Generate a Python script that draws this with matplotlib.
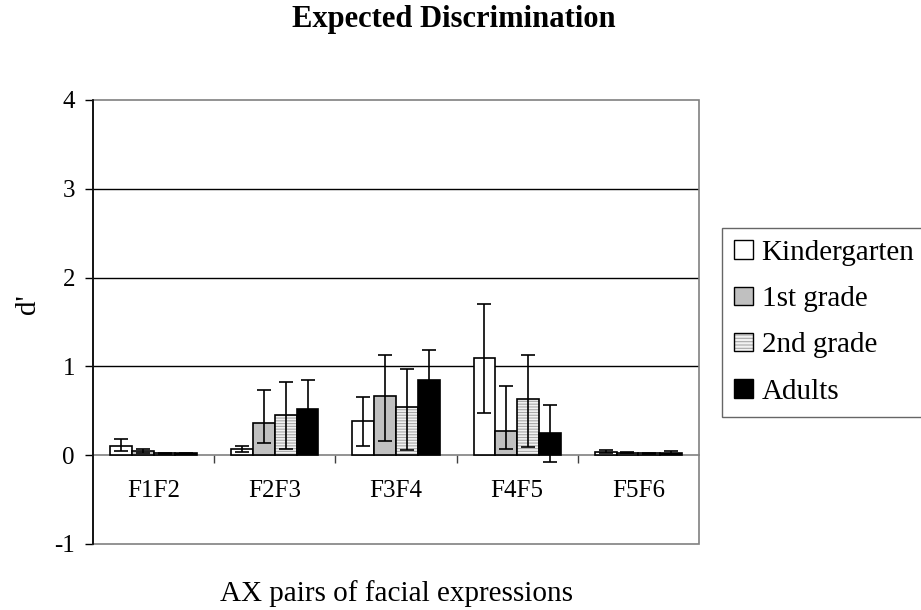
import numpy as np
import matplotlib
matplotlib.use("Agg")
import matplotlib.pyplot as plt
from matplotlib.patches import Patch, Rectangle
from matplotlib.legend_handler import HandlerTuple

plt.rcParams["font.family"] = ["Liberation Serif", "DejaVu Serif"]
plt.rcParams["hatch.linewidth"] = 0.8
plt.rcParams["axes.unicode_minus"] = False

# data: mean d' per pair and group, with upper / lower error lengths
pairs = ["F1F2", "F2F3", "F3F4", "F4F5", "F5F6"]
groups = ["Kindergarten", "1st grade", "2nd grade", "Adults"]

kinder = [0.10, 0.07, 0.38, 1.09, 0.04]
kinder_hi = [0.08, 0.03, 0.28, 0.61, 0.02]
kinder_lo = [0.05, 0.03, 0.28, 0.62, 0.02]

grade1 = [0.05, 0.36, 0.67, 0.27, 0.03]
grade1_hi = [0.02, 0.37, 0.46, 0.51, 0.01]
grade1_lo = [0.02, 0.22, 0.51, 0.20, 0.01]

grade2 = [0.02, 0.45, 0.54, 0.63, 0.02]
grade2_hi = [0.01, 0.37, 0.43, 0.50, 0.01]
grade2_lo = [0.01, 0.38, 0.48, 0.54, 0.01]

adults = [0.02, 0.52, 0.85, 0.25, 0.03]
adults_hi = [0.01, 0.33, 0.34, 0.32, 0.02]
adults_lo = [0.01, 0.33, 0.34, 0.33, 0.02]

means = [kinder, grade1, grade2, adults]
err_hi = [kinder_hi, grade1_hi, grade2_hi, adults_hi]
err_lo = [kinder_lo, grade1_lo, grade2_lo, adults_lo]

faces = ["white", "#c0c0c0", "#f2f2f2", "black"]

fig = plt.figure(figsize=(9.21, 6.10), dpi=100)
ax = fig.add_axes([0.10098, 0.10820, 0.65798, 0.72787])

x = np.arange(len(pairs))
w = 0.18

for i, g in enumerate(groups):
    pos = x + (i - 1.5) * w
    if i == 2:
        # striped fill first, black outline on top
        ax.bar(pos, means[i], w, color=faces[i], edgecolor="#a8a8a8",
               hatch="------", linewidth=0, zorder=3)
        ax.bar(pos, means[i], w, fill=False, edgecolor="black",
               linewidth=1.2, zorder=3)
    else:
        ax.bar(pos, means[i], w, color=faces[i], edgecolor="black",
               linewidth=1.2, zorder=3)
    ax.errorbar(pos, means[i], yerr=[err_lo[i], err_hi[i]], fmt="none",
                ecolor="black", elinewidth=1.2, capsize=5, capthick=1.2,
                zorder=4)

ax.set_xlim(-0.5, 4.5)
ax.set_ylim(-1, 4)
ax.set_yticks([-1, 0, 1, 2, 3, 4])

# gridlines and plot area frame
ax.yaxis.grid(True, color="black", linewidth=1)
ax.set_axisbelow(True)
for val, gl in zip(ax.get_yticks(), ax.get_ygridlines()):
    if val in (-1, 4, 0):
        gl.set_visible(False)
ax.add_patch(Rectangle((0, 0), 1, 1, transform=ax.transAxes, fill=False,
                       edgecolor="#808080", linewidth=1.2, zorder=1,
                       clip_on=False))

for s in ["top", "right"]:
    ax.spines[s].set_visible(False)
ax.spines["left"].set_color("black")
ax.spines["left"].set_linewidth(1.2)
ax.spines["left"].set_zorder(5)
ax.spines["bottom"].set_position(("data", 0))
ax.spines["bottom"].set_color("#808080")
ax.spines["bottom"].set_linewidth(1.2)

ax.set_xticks(x)
ax.set_xticklabels(pairs)
ax.set_xticks(np.arange(0.5, 4.5, 1), minor=True)
ax.tick_params(axis="x", which="major", length=0, pad=18, labelsize=18)
ax.tick_params(axis="x", which="minor", length=6, width=1, color="#404040",
               direction="out")
ax.tick_params(axis="y", length=6, width=1, direction="out", pad=7,
               labelsize=18)

ax.set_ylabel("d'", fontsize=21)
ax.yaxis.set_label_coords(-0.085, 0.54)
ax.set_xlabel("AX pairs of facial expressions", fontsize=21)
ax.xaxis.label.set_va("baseline")
ax.xaxis.set_label_coords(0.5, -0.128)

fig.text(0.493, 1 - 27 / 610, "Expected Discrimination", ha="center",
         va="baseline", fontsize=22, fontweight="bold")

# legend
handles = [
    Patch(facecolor="white", edgecolor="black", linewidth=1),
    Patch(facecolor="#c0c0c0", edgecolor="black", linewidth=1),
    (Patch(facecolor="#f2f2f2", edgecolor="#a8a8a8", hatch="-----",
           linewidth=0),
     Patch(fill=False, edgecolor="black", linewidth=1)),
    Patch(facecolor="black", edgecolor="black", linewidth=1),
]
leg = fig.legend(handles, groups, loc="upper left",
                 bbox_to_anchor=(722 / 921, 1 - 228 / 610),
                 bbox_transform=fig.transFigure, borderaxespad=0,
                 fontsize=21, frameon=True, fancybox=False,
                 handlelength=0.66, handleheight=0.6, handletextpad=0.3,
                 labelspacing=0.7, borderpad=0.4,
                 handler_map={tuple: HandlerTuple(ndivide=1)})
leg.get_frame().set_edgecolor("#404040")
leg.get_frame().set_linewidth(1)

fig.savefig("out.png", dpi=100)
